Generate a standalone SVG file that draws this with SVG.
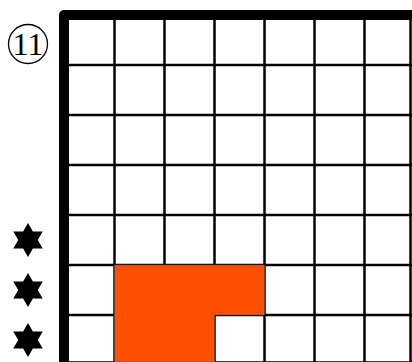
<svg xmlns="http://www.w3.org/2000/svg" width="412" height="362" viewBox="0 0 412 362">
  <style>
    .grid line { stroke: #000; stroke-width: 2.5; }
    .border { fill: none; stroke: #000; stroke-width: 10; stroke-linejoin: round; }
    .fill { fill: #ff4f00; stroke: #555; stroke-width: 0.6; }
    .star { fill: #000; }
    .lbl { font-family: "Liberation Serif", "DejaVu Serif", serif; font-size: 32px; fill: #000; }
  </style>
  <defs>
    <polygon id="hexstar" points="0,-17 4.9,-8.5 14.72,-8.5 9.81,0 14.72,8.5 4.9,8.5 0,17 -4.9,8.5 -14.72,8.5 -9.81,0 -14.72,-8.5 -4.9,-8.5"/>
  </defs>
  <rect width="412" height="362" fill="#fff"/>
  <g id="grid" class="grid">
    <line x1="114.5" y1="15" x2="114.5" y2="362"/>
    <line x1="164.5" y1="15" x2="164.5" y2="362"/>
    <line x1="214.5" y1="15" x2="214.5" y2="362"/>
    <line x1="264.5" y1="15" x2="264.5" y2="362"/>
    <line x1="314.5" y1="15" x2="314.5" y2="362"/>
    <line x1="364.5" y1="15" x2="364.5" y2="362"/>
    <line x1="410.5" y1="15" x2="410.5" y2="362"/>
    <line x1="64" y1="65" x2="412" y2="65"/>
    <line x1="64" y1="115" x2="412" y2="115"/>
    <line x1="64" y1="165" x2="412" y2="165"/>
    <line x1="64" y1="215" x2="412" y2="215"/>
    <line x1="64" y1="265" x2="412" y2="265"/>
    <line x1="64" y1="315" x2="412" y2="315"/>
    <line x1="64" y1="362.5" x2="412" y2="362.5"/>
  </g>
  <g id="region">
    <polygon class="fill" points="114.5,265 264.5,265 264.5,315 214.5,315 214.5,362 114.5,362"/>
  </g>
  <g id="frame">
    <path class="border" d="M64,362 V15 H412"/>
  </g>
  <g id="label">
    <circle cx="28" cy="44" r="19.5" fill="none" stroke="#000" stroke-width="1.3"/>
    <text class="lbl" x="28" y="55" text-anchor="middle">11</text>
  </g>
  <g id="stars" class="star">
    <use href="#hexstar" x="28" y="240"/>
    <use href="#hexstar" x="28" y="290"/>
    <use href="#hexstar" x="28" y="340"/>
  </g>
</svg>
